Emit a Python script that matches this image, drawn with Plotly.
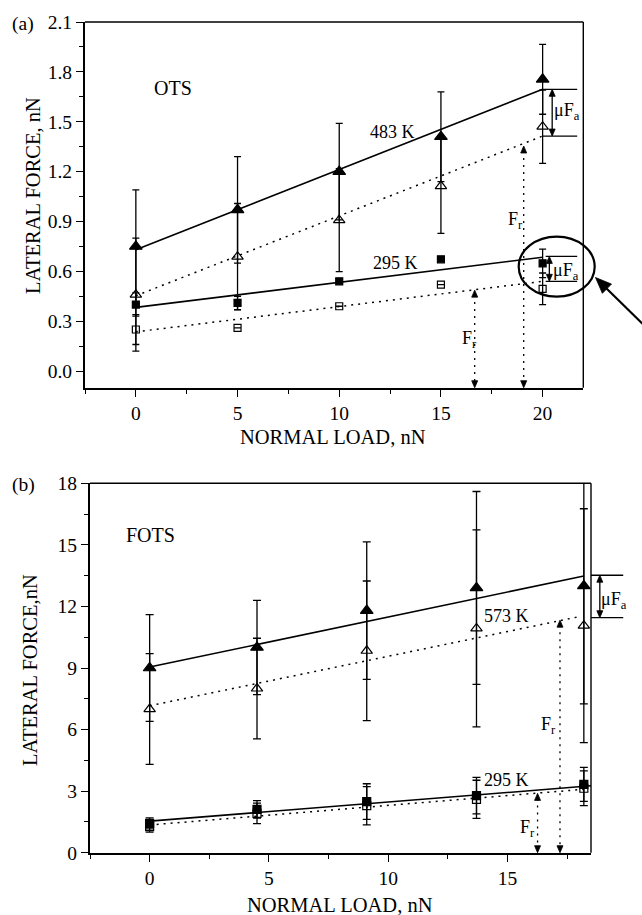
import math
import plotly.graph_objects as go

# ---- panel (a): OTS ----
load_a = [0, 5, 10, 15, 20]
ots_483_filled = [0.75, 0.97, 1.20, 1.41, 1.755]
ots_483_filled_err = [0.34, 0.32, 0.29, 0.27, 0.21]
ots_483_open = [0.46, 0.688, 0.908, 1.113, 1.47]
ots_483_open_err = [0.34, 0.32, 0.31, 0.285, 0.22]
ots_295_filled = [0.40, 0.41, 0.54, 0.672, 0.648]
ots_295_filled_err = [0.07, 0.04, 0.015, 0.0, 0.086]
ots_295_open = [0.25, 0.26, 0.39, 0.52, 0.495]
ots_295_open_err = [0.09, 0.0, 0.0, 0.0, 0.095]

fit_a_x = [0, 20]
fit_a_483_solid = [0.73, 1.695]
fit_a_483_dot = [0.453, 1.414]
fit_a_295_solid = [0.383, 0.685]
fit_a_295_dot = [0.236, 0.54]

# ---- panel (b): FOTS ----
load_b = [0, 4.5, 9.1, 13.7, 18.2]
fots_573_filled = [9.0, 10.0, 11.8, 12.9, 13.0]
fots_573_filled_err = [2.6, 2.3, 3.35, 4.7, 5.75]
fots_573_open = [7.0, 8.0, 9.84, 10.93, 11.06]
fots_573_open_err = [2.7, 2.45, 3.4, 4.8, 5.7]
fots_295_filled = [1.43, 2.11, 2.49, 2.78, 3.33]
fots_295_filled_err = [0.27, 0.43, 0.87, 0.89, 0.83]
fots_295_open = [1.27, 1.92, 2.29, 2.6, 3.14]
fots_295_open_err = [0.27, 0.5, 0.93, 0.93, 0.85]

fit_b_573_solid_x = [0, 18.2]
fit_b_573_solid = [9.05, 13.48]
fit_b_573_dot_x = [0, 18.0]
fit_b_573_dot = [7.16, 11.5]
fit_b_295_solid_x = [0, 18.5]
fit_b_295_solid = [1.54, 3.26]
fit_b_295_dot_x = [0, 18.2]
fit_b_295_dot = [1.35, 3.09]

W, H = 642, 915
FONT = "Liberation Serif"
DOTS = "2px,5px"

# pixel boxes of the two plot areas and their data ranges
PANELS = {
    "a": dict(px=(85, 583.3), py=(22, 387.7), xr=(-2.5, 22), yr=(-0.1, 2.1)),
    "b": dict(px=(90, 591), py=(483.3, 852.7), xr=(-2.5, 18.5), yr=(0, 18)),
}


def pix(panel, x, y):
    p = PANELS[panel]
    X = p["px"][0] + (x - p["xr"][0]) / (p["xr"][1] - p["xr"][0]) * (p["px"][1] - p["px"][0])
    Y = p["py"][1] - (y - p["yr"][0]) / (p["yr"][1] - p["yr"][0]) * (p["py"][1] - p["py"][0])
    return X, Y


def paper(X, Y):
    return X / W, 1 - Y / H


fig = go.Figure()


def add_points(x, y, err, symbol, size, xa, ya, cap):
    fig.add_trace(go.Scatter(
        x=x, y=y, mode="markers", xaxis=xa, yaxis=ya, showlegend=False,
        marker=dict(symbol=symbol, size=size, color="black",
                    line=dict(color="black", width=1.2)),
        error_y=dict(type="data", array=err, symmetric=True, color="black",
                     thickness=1.3, width=cap),
    ))


def add_fit(x, y, dash, xa, ya):
    fig.add_trace(go.Scatter(
        x=x, y=y, mode="lines", xaxis=xa, yaxis=ya, showlegend=False,
        line=dict(color="black", width=1.6 if dash == "solid" else 1.5, dash=dash),
    ))


# panel (a)
add_fit(fit_a_x, fit_a_483_solid, "solid", "x", "y")
add_fit(fit_a_x, fit_a_483_dot, DOTS, "x", "y")
add_fit(fit_a_x, fit_a_295_solid, "solid", "x", "y")
add_fit(fit_a_x, fit_a_295_dot, DOTS, "x", "y")
add_points(load_a, ots_483_filled, ots_483_filled_err, "triangle-up", 11, "x", "y", 3.5)
add_points(load_a, ots_483_open, ots_483_open_err, "triangle-up-open", 10, "x", "y", 3.5)
add_points(load_a, ots_295_filled, ots_295_filled_err, "square", 7, "x", "y", 3.5)
add_points(load_a, ots_295_open, ots_295_open_err, "square-open", 7, "x", "y", 3.5)

# panel (b)
add_fit(fit_b_573_solid_x, fit_b_573_solid, "solid", "x2", "y2")
add_fit(fit_b_573_dot_x, fit_b_573_dot, DOTS, "x2", "y2")
add_fit(fit_b_295_solid_x, fit_b_295_solid, "solid", "x2", "y2")
add_fit(fit_b_295_dot_x, fit_b_295_dot, DOTS, "x2", "y2")
add_points(load_b, fots_573_filled, fots_573_filled_err, "triangle-up", 11, "x2", "y2", 4)
add_points(load_b, fots_573_open, fots_573_open_err, "triangle-up-open", 10, "x2", "y2", 4)
add_points(load_b, fots_295_filled, fots_295_filled_err, "square", 8, "x2", "y2", 4)
add_points(load_b, fots_295_open, fots_295_open_err, "square-open", 8, "x2", "y2", 4)


def axis_common():
    return dict(showline=True, linewidth=2, linecolor="black", mirror=False,
                ticks="outside", ticklen=7, tickwidth=1.4, tickcolor="black",
                showgrid=False, zeroline=False, automargin=False,
                tickfont=dict(family=FONT, size=19.5, color="black"))


def minor(step):
    return dict(dtick=step, tick0=0, ticks="outside", ticklen=4,
                tickwidth=1.2, tickcolor="black", showgrid=False)


def dom(panel):
    p = PANELS[panel]
    return ([p["px"][0] / W, p["px"][1] / W],
            [1 - p["py"][1] / H, 1 - p["py"][0] / H])


dax, day = dom("a")
dbx, dby = dom("b")

fig.update_layout(
    template="none",
    width=W, height=H, autosize=False,
    margin=dict(l=0, r=0, t=0, b=0, pad=0, autoexpand=False),
    paper_bgcolor="white", plot_bgcolor="white",
    font=dict(family=FONT, color="black"),
    xaxis=dict(domain=dax, range=list(PANELS["a"]["xr"]), anchor="y",
               tickvals=[0, 5, 10, 15, 20], minor=minor(2.5), **axis_common()),
    yaxis=dict(domain=day, range=list(PANELS["a"]["yr"]), anchor="x",
               tick0=0, dtick=0.3, tickformat=".1f", minor=minor(0.15),
               **axis_common()),
    xaxis2=dict(domain=dbx, range=list(PANELS["b"]["xr"]), anchor="y2",
                tickvals=[0, 5, 10, 15], minor=minor(2.5), **axis_common()),
    yaxis2=dict(domain=dby, range=list(PANELS["b"]["yr"]), anchor="x2",
                tick0=0, dtick=3, minor=minor(1.5), **axis_common()),
)

annotations = []
shapes = []


def text_at(X, Y, txt, size=18, angle=0):
    x, y = paper(X, Y)
    annotations.append(dict(x=x, y=y, xref="paper", yref="paper", text=txt,
                            showarrow=False, textangle=angle, xanchor="center",
                            yanchor="middle",
                            font=dict(family=FONT, size=size, color="black")))


def head(X, Y, dx, dy, length=7, half=3):
    # filled triangular arrowhead, tip at (X, Y), pointing along (dx, dy)
    n = math.hypot(dx, dy)
    ux, uy = dx / n, dy / n
    bx, by = X - ux * length, Y - uy * length
    px, py = -uy, ux
    pts = [(X, Y), (bx + px * half, by + py * half), (bx - px * half, by - py * half)]
    path = "M " + " L ".join(f"{p[0] / W:.5f},{1 - p[1] / H:.5f}" for p in pts) + " Z"
    shapes.append(dict(type="path", xref="paper", yref="paper", path=path,
                       fillcolor="black", line=dict(color="black", width=0.8)))


def seg(X0, Y0, X1, Y1, dash="solid", width=1.3):
    x0, y0 = paper(X0, Y0)
    x1, y1 = paper(X1, Y1)
    shapes.append(dict(type="line", xref="paper", yref="paper", x0=x0, x1=x1,
                       y0=y0, y1=y1, line=dict(color="black", width=width, dash=dash)))


def double_arrow(panel, x, ytop, ybot, dash):
    X, Yt = pix(panel, x, ytop)
    _, Yb = pix(panel, x, ybot)
    seg(X, Yt + 5, X, Yb - 5, dash=dash, width=1.3)
    head(X, Yt, 0, -1)
    head(X, Yb, 0, 1)


def bracket(panel, x0, x1, y):
    X0, Y = pix(panel, x0, y)
    X1, _ = pix(panel, x1, y)
    seg(X0, Y, X1, Y)


# thinner top and right frame edges of each plot area
for p in PANELS.values():
    (l, r), (t, b) = p["px"], p["py"]
    seg(l, t, r, t, width=1.4)
    seg(r, t, r, b, width=1.4)

# axis titles and panel tags
text_at(33, 196, "LATERAL FORCE, nN", 20.5, -90)
text_at(333, 437, "NORMAL LOAD, nN", 20.5)
text_at(30, 670, "LATERAL FORCE,nN", 20.5, -90)
text_at(340, 905, "NORMAL LOAD, nN", 20.5)
text_at(23.5, 24, "(a)", 19.5)
text_at(24, 485, "(b)", 19.5)

# panel (a) labels
text_at(173, 88, "OTS", 20)
text_at(392, 132, "483 K", 18)
text_at(395, 263, "295 K", 18)
text_at(567, 112, "μF<sub>a</sub>", 18)
text_at(566, 271, "μF<sub>a</sub>", 18)
text_at(469, 339, "F<sub>r</sub>", 18)
text_at(515, 221, "F<sub>r</sub>", 18)

# panel (a) μFa brackets
bracket("a", 20.0, 21.7, fit_a_483_solid[1])
bracket("a", 20.0, 21.7, fit_a_483_dot[1])
bracket("a", 20.15, 21.7, 0.69)
bracket("a", 20.15, 21.7, fit_a_295_dot[1])
double_arrow("a", 20.47, fit_a_483_solid[1], fit_a_483_dot[1], "solid")
double_arrow("a", 20.33, 0.69, fit_a_295_dot[1], "solid")

# panel (a) Fr arrows, from the load axis up to the dotted fits
double_arrow("a", 16.66, 0.487, -0.1, DOTS)
double_arrow("a", 19.07, 1.354, -0.1, DOTS)

# highlight ellipse and pointer
ex0, ey1 = paper(518.7, 236.7)
ex1, ey0 = paper(594.7, 296.7)
shapes.append(dict(type="circle", xref="paper", yref="paper", x0=ex0, x1=ex1,
                   y0=ey0, y1=ey1, line=dict(color="black", width=2.2)))
tip = (595.5, 277.5)
tail = (650, 331)
seg(tail[0], tail[1], tip[0] + 10, tip[1] + 10, width=2.2)
head(tip[0], tip[1], tip[0] - tail[0], tip[1] - tail[1], length=16, half=6.5)

# panel (b) labels
text_at(150.5, 535, "FOTS", 20)
text_at(506.5, 616, "573 K", 18)
text_at(506.5, 780, "295 K", 18)
text_at(614, 600, "μF<sub>a</sub>", 18)
text_at(548, 725, "F<sub>r</sub>", 18)
text_at(527, 828, "F<sub>r</sub>", 18)

# panel (b) μFa bracket
bracket("b", 18.5, 19.85, 13.52)
bracket("b", 18.5, 19.85, 11.45)
double_arrow("b", 18.87, 13.52, 11.45, "solid")

# panel (b) Fr arrows
double_arrow("b", 17.2, 11.33, 0, DOTS)
double_arrow("b", 16.26, 2.89, 0, DOTS)

fig.update_layout(annotations=annotations, shapes=shapes)
fig.write_html("out.html")
